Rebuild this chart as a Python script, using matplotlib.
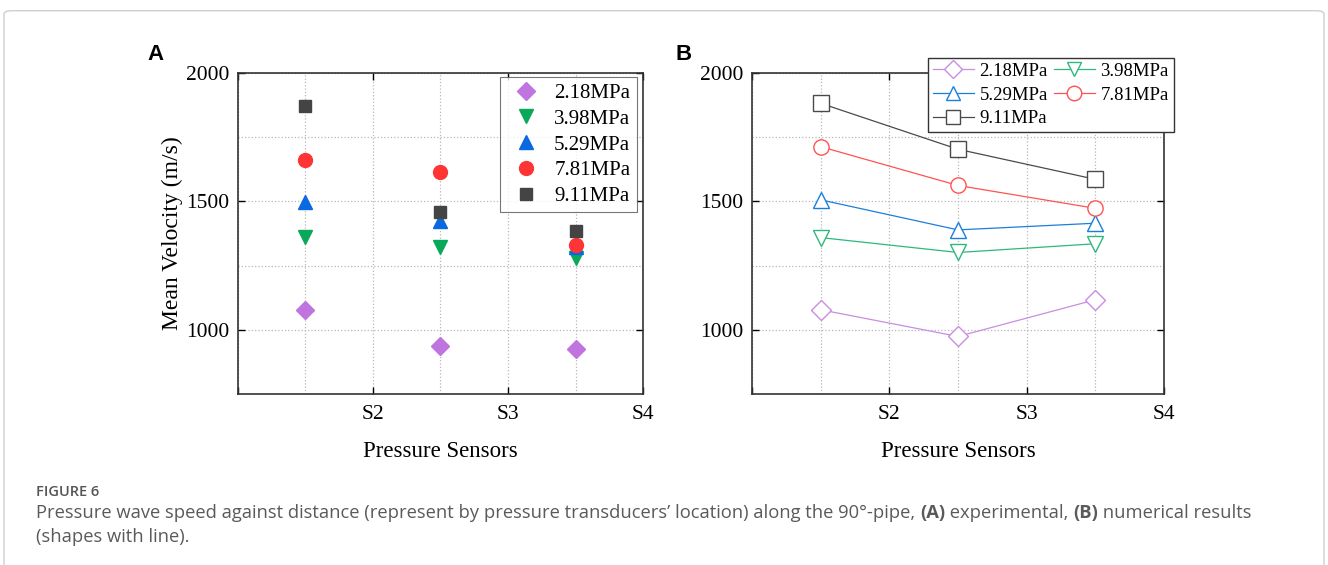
import numpy as np
import matplotlib.pyplot as plt
from matplotlib.patches import FancyBboxPatch
from matplotlib.ticker import FixedLocator

# sensor positions (between S1..S4) and labels
pos = [1.5, 2.5, 3.5]
xtick_pos = [1, 2, 3, 4]
xtick_labels = ['', 'S2', 'S3', 'S4']
pressures = ['2.18MPa', '3.98MPa', '5.29MPa', '7.81MPa', '9.11MPa']

# (A) experimental
exp_218 = [1078, 935, 926]
exp_398 = [1363, 1324, 1279]
exp_529 = [1497, 1422, 1322]
exp_781 = [1661, 1616, 1331]
exp_911 = [1872, 1458, 1383]

# (B) numerical
num_218 = [1078, 974, 1117]
num_398 = [1359, 1301, 1335]
num_529 = [1506, 1389, 1415]
num_781 = [1713, 1562, 1473]
num_911 = [1882, 1703, 1586]

markers = ['D', 'v', '^', 'o', 's']
colors_a = ['#c074e0', '#0aa85a', '#0a68e0', '#ff3535', '#444444']
colors_b = ['#c88ee0', '#2eb87c', '#1a7fdc', '#ff5252', '#4a4a4a']

serif = 'Liberation Serif'
fig = plt.figure(figsize=(13.28, 5.65), dpi=100)

# outer frame
fig.patches.append(FancyBboxPatch((0.003, -0.05), 0.994, 1.031, boxstyle='round,pad=0,rounding_size=0.006',
                                  transform=fig.transFigure, fill=False, edgecolor='#cfcfcf', lw=1))

def style_axes(ax):
    ax.set_xlim(1, 4)
    ax.set_ylim(750, 2000)
    ax.xaxis.set_major_locator(FixedLocator(xtick_pos))
    ax.set_xticklabels(xtick_labels, fontfamily=serif, fontsize=15.5)
    ax.xaxis.set_minor_locator(FixedLocator(pos))
    ax.yaxis.set_major_locator(FixedLocator([1000, 1500, 2000]))
    ax.yaxis.set_minor_locator(FixedLocator([1250, 1750]))
    for lab in ax.get_yticklabels():
        lab.set_fontfamily(serif)
        lab.set_fontsize(15.5)
    ax.tick_params(which='major', direction='in', length=5, width=1, top=True, right=True, pad=6)
    ax.tick_params(axis='x', which='major', pad=8)
    ax.tick_params(which='minor', direction='in', length=0, top=True, right=True)
    ax.grid(which='both', linestyle=':', color='#b8b8b8', lw=0.9)
    for s in ax.spines.values():
        s.set_linewidth(1.2)
        s.set_color('#333333')
    ax.set_axisbelow(True)
    ax.set_xlabel('Pressure Sensors', fontfamily=serif, fontsize=16.5, labelpad=12)

# panel A
axa = fig.add_axes([0.1792, 0.3027, 0.3050, 0.5681])
style_axes(axa)
exp_series = [exp_218, exp_398, exp_529, exp_781, exp_911]
for vals, m, c, lab in zip(exp_series, markers, colors_a, pressures):
    ms = {'D': 9, 's': 8.5}.get(m, 10)
    axa.plot(pos, vals, linestyle='none', marker=m, color=c, ms=ms, label=lab)
axa.set_ylabel('Mean Velocity (m/s)', fontfamily=serif, fontsize=17, labelpad=2)
leg = axa.legend(loc='upper left', bbox_to_anchor=(500 / 1328, 1 - 77 / 565), bbox_transform=fig.transFigure,
                 prop={'family': serif, 'size': 15}, frameon=True, fancybox=False, edgecolor='#555555',
                 handletextpad=0.4, labelspacing=0.3, borderpad=0.3, handlelength=1.9, borderaxespad=0)
leg.get_frame().set_linewidth(0.8)

# panel B
axb = fig.add_axes([0.5663, 0.3027, 0.3102, 0.5681])
style_axes(axb)
num_series = [num_218, num_398, num_529, num_781, num_911]
lines = []
for vals, m, c, lab in zip(num_series, markers, colors_b, pressures):
    ln, = axb.plot(pos, vals, marker=m, color=c, mfc='white', mec=c, ms=11 if m != 'D' else 10,
                   lw=0.9, mew=1.0, label=lab)
    lines.append(ln)
# row-wise order in a 2-column legend
order = [0, 2, 4, 1, 3]
legb = axb.legend([lines[i] for i in order], [pressures[i] for i in order],
                  loc='upper left', bbox_to_anchor=(928 / 1328, 1 - 58 / 565), bbox_transform=fig.transFigure,
                  ncol=2, prop={'family': serif, 'size': 13.5}, frameon=True, fancybox=False,
                  edgecolor='#333333', handlelength=2.2, handletextpad=0.3, columnspacing=0.3,
                  labelspacing=0.35, borderpad=0.25, borderaxespad=0, framealpha=1, markerscale=0.95)
legb.get_frame().set_linewidth(1.0)

fig.text(156 / 1328, 1 - 55 / 565, 'A', fontfamily='Liberation Sans', fontweight='bold', fontsize=16,
         ha='center', va='center')
fig.text(684 / 1328, 1 - 55 / 565, 'B', fontfamily='Liberation Sans', fontweight='bold', fontsize=16,
         ha='center', va='center')

# caption
cap_font = 'Open Sans'
cap_x = 36
fig.text(cap_x / 1328, 1 - 492 / 565, 'FIGURE 6', fontfamily=cap_font, fontsize=10.5, color='#555555',
         fontweight='semibold', va='center', ha='left')

renderer = fig.canvas.get_renderer()
pieces = [('Pressure wave speed against distance (represent by pressure transducers\u2019 location) '
           'along the 90\u00b0-pipe, ', 'normal'),
          ('(A)', 'bold'), (' experimental, ', 'normal'), ('(B)', 'bold'), (' numerical results', 'normal')]
x = cap_x
for txt, w in pieces:
    t = fig.text(x / 1328, 1 - 513 / 565, txt, fontfamily=cap_font, fontsize=13.2, color='#5a5a5a',
                 fontweight=w, va='center', ha='left')
    bb = t.get_window_extent(renderer)
    x += bb.width
fig.text(cap_x / 1328, 1 - 537 / 565, '(shapes with line).', fontfamily=cap_font, fontsize=13.2,
         color='#5a5a5a', va='center', ha='left')

fig.savefig('out.png', dpi=100)
